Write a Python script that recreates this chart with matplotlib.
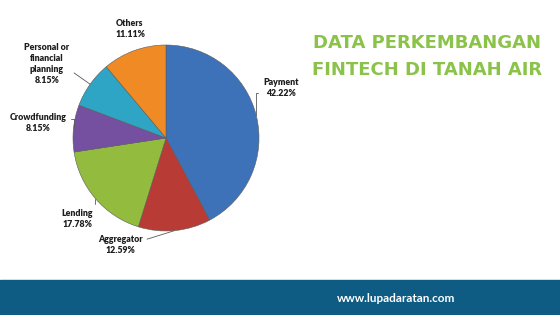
import numpy as np
import matplotlib
matplotlib.use("Agg")
import matplotlib.pyplot as plt
from matplotlib.patches import Rectangle

# data
categories = ["Payment", "Aggregator", "Lending", "Crowdfunding",
              "Personal or\nfinancial\nplanning", "Others"]
shares = [42.22, 12.59, 17.78, 8.15, 8.15, 11.11]
colors = ["#3D72B9", "#B83B35", "#93BC3F", "#7550A0", "#2FA5C5", "#F08A24"]

title_lines = ["DATA PERKEMBANGAN", "FINTECH DI TANAH AIR"]
site = "www.lupadaratan.com"

# layout (figure in pixel units, y up)
W, H = 560, 315
center = (166, H - 138)
radius = 93
label_pos = [(281, H - 88), (120, H - 245), (77, H - 219),
             (38, H - 123), (47, H - 64), (130, H - 29)]
# where the leader line leaves the label box, and its shape
rel = [(0, 0.25), (1, 0.72), (1, 0.72), (1, 0.72), (1, 0.36), None]
conn = ["angle,angleA=0,angleB=90,rad=0", "arc3", "angle,angleA=0,angleB=90,rad=0",
        "angle,angleA=0,angleB=90,rad=0", "arc3", None]

fig = plt.figure(figsize=(W / 100, H / 100), dpi=100)
ax = fig.add_axes([0, 0, 1, 1])

wedges, _ = ax.pie(shares, colors=colors, startangle=90, counterclock=False,
                   center=center, radius=radius,
                   wedgeprops=dict(edgecolor="#5a5a5a", linewidth=0.4))

ax.set_xlim(0, W)
ax.set_ylim(0, H)
ax.set_aspect("equal")
ax.axis("off")

for w, name, val, pos, rp, cs in zip(wedges, categories, shares, label_pos, rel, conn):
    ang = np.deg2rad((w.theta1 + w.theta2) / 2)
    edge = (center[0] + radius * np.cos(ang), center[1] + radius * np.sin(ang))
    props = None
    if rp is not None:
        props = dict(arrowstyle="-", color="#595959", lw=0.6, shrinkA=1.5, shrinkB=0,
                     relpos=rp, connectionstyle=cs)
    ax.annotate(f"{name}\n{val:.2f}%", xy=edge, xytext=pos,
                ha="center", va="center", fontsize=6.3, fontweight="heavy",
                family=["Lato", "DejaVu Sans"],
                color="#1e1e1e", linespacing=1.25, arrowprops=props)

# bottom band
ax.add_patch(Rectangle((0, 0), W, 35, color="#0E5C84", zorder=0))
ax.text(396, 17, site, ha="center", va="center", color="white",
        fontsize=8.5, fontweight="bold", family=["Lato", "DejaVu Sans"])

# title
ax.text(427, H - 43, title_lines[0], ha="center", va="center",
        color="#8BC34A", fontsize=13, fontweight="bold")
ax.text(427, H - 70, title_lines[1], ha="center", va="center",
        color="#8BC34A", fontsize=13, fontweight="bold")

fig.savefig("out.png", dpi=100)
